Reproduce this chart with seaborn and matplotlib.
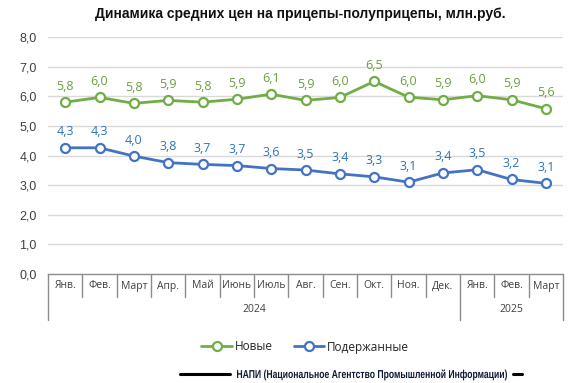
import matplotlib
matplotlib.use("Agg")
import matplotlib.pyplot as plt
import matplotlib.transforms as mtransforms
from matplotlib.lines import Line2D
from matplotlib.textpath import TextPath
from matplotlib.patches import PathPatch
from matplotlib.font_manager import FontProperties
import seaborn as sns
import pandas as pd

title = "Динамика средних цен на прицепы-полуприцепы, млн.руб."
months = ["Янв.", "Фев.", "Март", "Апр.", "Май", "Июнь", "Июль", "Авг.", "Сен.",
          "Окт.", "Ноя.", "Дек.", "Янв.", "Фев.", "Март"]
years = ["2024", "2025"]
year_counts = [12, 3]
new_vals = [5.80, 5.96, 5.76, 5.86, 5.80, 5.90, 6.07, 5.86, 5.96, 6.50, 5.97, 5.88, 6.02, 5.88, 5.58]
used_vals = [4.26, 4.26, 3.98, 3.76, 3.70, 3.66, 3.56, 3.51, 3.38, 3.28, 3.10, 3.41, 3.52, 3.19, 3.06]
series_names = ["Новые", "Подержанные"]
yticks = [0, 1, 2, 3, 4, 5, 6, 7, 8]
footer = "НАПИ (Национальное Агентство Промышленной Информации)"

line_colors = ["#70AD47", "#4472C4"]
label_colors = ["#6A9E3F", "#2E75B6"]

sns.set_theme(style="white")
plt.rcParams['font.family'] = ['Liberation Sans', 'DejaVu Sans']

W, H = 580, 383
fig = plt.figure(figsize=(W/100, H/100), dpi=100)
ax = fig.add_axes([48/W, 1-274/H, (563-48)/W, (274-37)/H])

idx = list(range(len(months)))
df = pd.DataFrame({"x": idx * 2,
                   "y": new_vals + used_vals,
                   "s": [series_names[0]] * len(idx) + [series_names[1]] * len(idx)})

for name, col, lcol, vals in zip(series_names, line_colors, label_colors, [new_vals, used_vals]):
    sub = df[df["s"] == name]
    sns.lineplot(data=sub, x="x", y="y", ax=ax, color=col, linewidth=2.0,
                 marker="o", markersize=6.5, markerfacecolor="white",
                 markeredgecolor=col, markeredgewidth=1.6, zorder=3, legend=False)
    for xi, v in zip(idx, vals):
        ax.annotate(f"{v:.1f}".replace(".", ","), (xi, v), xytext=(0, 16),
                    textcoords="offset pixels", ha="center", va="center",
                    fontsize=9, color=lcol, family=['Open Sans', 'DejaVu Sans'])

ax.set_xlim(-0.5, len(months) - 0.5)
ax.set_ylim(0, 8)
ax.set_yticks(yticks)
ax.set_yticklabels([f"{t:.1f}".replace(".", ",") for t in yticks], fontsize=9, color="#404040")
ax.tick_params(axis="y", length=0, pad=8)
ax.set_xticks([])
ax.set_xlabel("")
ax.set_ylabel("")
for t in yticks[1:]:
    ax.axhline(t, color="#D9D9D9", linewidth=1.0, zorder=0)
for s in ["left", "right", "top"]:
    ax.spines[s].set_visible(False)
ax.spines["bottom"].set_color("#8C8C8C")
ax.spines["bottom"].set_linewidth(1.0)

trans = mtransforms.blended_transform_factory(ax.transData, ax.transAxes)
ah = 237.0
short = 23 / ah
long_ = 46 / ah
boundaries = [-0.5]
acc = -0.5
for c in year_counts:
    acc += c
    boundaries.append(acc)
for k in range(len(months) + 1):
    xb = k - 0.5
    depth = long_ if xb in boundaries else short
    ax.plot([xb, xb], [0, -depth], transform=trans, color="#8C8C8C", linewidth=1.0, clip_on=False)
for xi, m in zip(idx, months):
    ax.text(xi, -12/ah, m, transform=trans, ha="center", va="center", fontsize=7.5,
            color="#404040", family=['Open Sans', 'DejaVu Sans'])
for i, yr in enumerate(years):
    xc = (boundaries[i] + boundaries[i + 1]) / 2
    ax.text(xc, -36/ah, yr, transform=trans, ha="center", va="center", fontsize=7.5,
            color="#404040", family=['Open Sans', 'DejaVu Sans'])

fig.text(300/W, 1-14/H, title, ha="center", va="center", fontsize=10, fontweight="bold", color="#111111")

handles = [Line2D([0], [0], color=c, linewidth=2.0, marker="o", markersize=6.5,
                  markerfacecolor="white", markeredgecolor=c, markeredgewidth=1.6)
           for c in line_colors]
fig.legend(handles, series_names, loc="center", bbox_to_anchor=(305/W, 1-347/H),
           ncol=2, frameon=False, handlelength=2.6, columnspacing=1.8,
           handletextpad=0.2, prop={'family': ['Open Sans', 'DejaVu Sans'], 'size': 8.5})

# footer: horizontally condensed bold text drawn as a path (pixel coordinates)
fp = FontProperties(family="Liberation Sans", weight="bold")
tp = TextPath((0, 0), footer, size=11.5, prop=fp)
ext = tp.get_extents()
target_w = 507 - 237
sx = target_w / ext.width
tr = mtransforms.Affine2D().translate(-ext.x0, 0).scale(sx, 1.0).translate(237, H - 378) \
    + mtransforms.IdentityTransform()
patch = PathPatch(tp, transform=tr, facecolor="#0F1A33", edgecolor="none")
fig.add_artist(patch)
fig.add_artist(Line2D([180/W, 230/W], [1-374/H, 1-374/H], color="black", linewidth=2.2))
fig.add_artist(Line2D([513/W, 522/W], [1-374/H, 1-374/H], color="black", linewidth=2.2))

fig.savefig("out.png", dpi=100)
